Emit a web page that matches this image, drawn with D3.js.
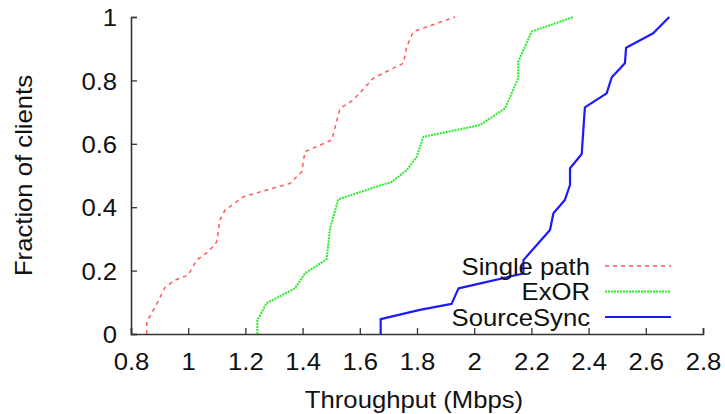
<!DOCTYPE html>
<html>
<head>
<meta charset="utf-8">
<script src="https://cdn.jsdelivr.net/npm/d3@7"></script>
<style>
  body { margin: 0; background: #fff; }
  text { font-family: "Liberation Sans", Arial, sans-serif; fill: #111; }
</style>
</head>
<body>
<div id="chart"></div>
<script>
// Throughput CDF per scheme (x = Mbps, y = fraction of clients)
const seriesNames = ['Single path', 'ExOR', 'SourceSync']

const singleX = [0.855, 0.855, 0.872, 0.894, 0.919, 0.954, 1.0, 1.03, 1.07, 1.1, 1.111, 1.129, 1.193, 1.274, 1.356, 1.397, 1.408, 1.502, 1.531, 1.577, 1.647, 1.752, 1.764, 1.787, 1.933]
const singleY = [0, 0.039, 0.065, 0.102, 0.147, 0.17, 0.186, 0.233, 0.26, 0.291, 0.36, 0.391, 0.433, 0.454, 0.475, 0.512, 0.575, 0.612, 0.712, 0.738, 0.807, 0.854, 0.906, 0.954, 1.0]

const exorX = [1.242, 1.242, 1.274, 1.373, 1.408, 1.484, 1.496, 1.525, 1.659, 1.712, 1.764, 1.799, 1.822, 2.02, 2.108, 2.154, 2.154, 2.201, 2.347]
const exorY = [0, 0.044, 0.097, 0.144, 0.191, 0.236, 0.333, 0.425, 0.465, 0.48, 0.517, 0.559, 0.622, 0.659, 0.712, 0.807, 0.859, 0.954, 1.0]

const syncX = [1.673, 1.673, 1.81, 1.921, 1.945, 2.172, 2.172, 2.265, 2.277, 2.317, 2.335, 2.335, 2.376, 2.387, 2.463, 2.481, 2.527, 2.531, 2.626, 2.682]
const syncY = [0, 0.047, 0.076, 0.095, 0.144, 0.191, 0.233, 0.328, 0.381, 0.423, 0.47, 0.523, 0.568, 0.715, 0.759, 0.81, 0.854, 0.903, 0.949, 1.0]

const xTicks = [0.8, 1, 1.2, 1.4, 1.6, 1.8, 2, 2.2, 2.4, 2.6, 2.8]
const yTicks = [0, 0.2, 0.4, 0.6, 0.8, 1]

const width = 725
const height = 414
const margin = { top: 17, right: 22, bottom: 80, left: 131 }
const fontSize = 24
// the original text is a little wider than Liberation Sans
const stretch = 'scale(1.07, 1)'

const styles = [
  { color: '#ff5a5a', width: 1.5, dash: '4,4' },
  { color: '#22ee22', width: 2, dash: '2,1' },
  { color: '#1a1aff', width: 2.2, dash: null }
]

const series = [
  d3.zip(singleX, singleY),
  d3.zip(exorX, exorY),
  d3.zip(syncX, syncY)
]

const svg = d3.select('#chart')
  .append('svg')
  .attr('width', width)
  .attr('height', height)

const x = d3.scaleLinear()
  .domain([0.8, 2.8])
  .range([margin.left, width - margin.right])

const y = d3.scaleLinear()
  .domain([0, 1])
  .range([height - margin.bottom, margin.top])

// axes, ticks point inward
const xAxis = svg.append('g')
  .attr('transform', `translate(0, ${y(0)})`)
  .call(d3.axisBottom(x).tickValues(xTicks).tickSizeInner(-6).tickSizeOuter(-6)
    .tickPadding(14).tickFormat(d3.format('')))

const yAxis = svg.append('g')
  .attr('transform', `translate(${x(0.8)}, 0)`)
  .call(d3.axisLeft(y).tickValues(yTicks).tickSizeInner(-6).tickSizeOuter(-6)
    .tickPadding(14).tickFormat(d3.format('')))

for (const g of [xAxis, yAxis]) {
  g.select('.domain').attr('stroke', '#333').attr('stroke-width', 1.6)
  g.selectAll('.tick line').attr('stroke', '#333').attr('stroke-width', 1.3)
  g.selectAll('.tick text')
    .attr('font-size', fontSize)
    .attr('font-family', '"Liberation Sans", Arial, sans-serif')
    .attr('fill', '#111')
    .attr('transform', stretch)
}
xAxis.selectAll('.tick text').attr('dy', '0.93em')
yAxis.selectAll('.tick text').attr('dy', '0.36em').attr('x', -13)

// axis titles
svg.append('text')
  .attr('transform', `translate(${(x(0.8) + x(2.8)) / 2 - 3}, 408) ${stretch}`)
  .attr('text-anchor', 'middle')
  .attr('font-size', fontSize)
  .text('Throughput (Mbps)')

svg.append('text')
  .attr('transform', `translate(32, ${y(0.5)}) rotate(-90) ${stretch}`)
  .attr('text-anchor', 'middle')
  .attr('font-size', fontSize)
  .text('Fraction of clients')

// lines
const line = d3.line()
  .x(d => x(d[0]))
  .y(d => y(d[1]))

svg.append('g')
  .selectAll('path')
  .data(series)
  .join('path')
  .attr('d', line)
  .attr('fill', 'none')
  .attr('stroke', (d, i) => styles[i].color)
  .attr('stroke-width', (d, i) => styles[i].width)
  .attr('stroke-dasharray', (d, i) => styles[i].dash)
  .attr('stroke-linejoin', 'round')

// legend
const legend = svg.append('g')
  .selectAll('g')
  .data(seriesNames)
  .join('g')
  .attr('transform', (d, i) => `translate(0, ${266 + i * 25.5})`)

legend.append('text')
  .attr('transform', `translate(590, 0) ${stretch}`)
  .attr('dy', '0.36em')
  .attr('text-anchor', 'end')
  .attr('font-size', fontSize)
  .text(d => d)

legend.append('line')
  .attr('x1', 605)
  .attr('x2', 671)
  .attr('stroke', (d, i) => styles[i].color)
  .attr('stroke-width', (d, i) => styles[i].width)
  .attr('stroke-dasharray', (d, i) => styles[i].dash)
</script>
</body>
</html>
